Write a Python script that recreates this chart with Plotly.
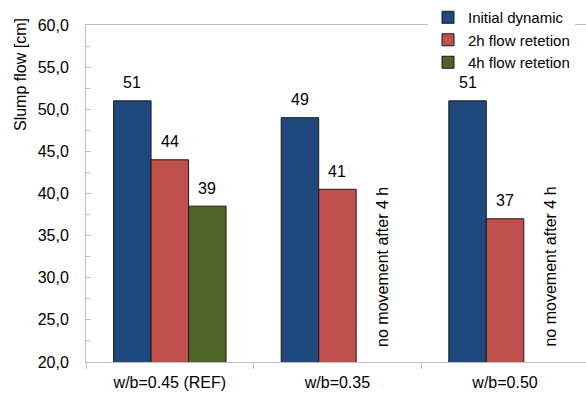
import plotly.graph_objects as go
from decimal import Decimal, ROUND_HALF_UP

# Slump flow measured for each mix, initially and after 2 h / 4 h
categories = ["w/b=0.45 (REF)", "w/b=0.35", "w/b=0.50"]
initial_dynamic = [51, 49, 51]
flow_2h = [44, 40.5, 37]
flow_4h = [38.5, None, None]
series_names = ["Initial dynamic", "2h flow retetion", "4h flow retetion"]
series_colors = ["#1F497D", "#C0504D", "#4F6228"]
no_movement_groups = ["w/b=0.35", "w/b=0.50"]
no_movement_text = "no movement after 4 h"
y_title = "Slump flow [cm]"

FONT = "Liberation Sans, Arial, sans-serif"
FS = 16
LEGEND_FS = 15
GRID_GREY = "#BFBFBF"
BARGAP = 0.329
W, H = 586, 394
ML, MR, MT, MB = 86, 0, 25, 32

series = [initial_dynamic, flow_2h, flow_4h]
n_series = len(series)
slot = (1 - BARGAP) / n_series  # width of one bar in category units

fig = go.Figure()
for name, vals, col in zip(series_names, series, series_colors):
    fig.add_trace(go.Bar(
        name=name, x=categories, y=vals,
        marker=dict(color=col, line=dict(color="#1A1A1A", width=1)),
        hoverinfo="skip",
    ))


def label_text(v):
    return str(Decimal(str(v)).quantize(Decimal("1"), rounding=ROUND_HALF_UP))


annotations = []
# value labels above each bar
for k, vals in enumerate(series):
    for i, v in enumerate(vals):
        if v is None:
            continue
        annotations.append(dict(
            x=i + (k - (n_series - 1) / 2) * slot, y=v, xref="x", yref="y",
            text=label_text(v), showarrow=False, yanchor="middle", yshift=18,
            font=dict(family=FONT, size=FS, color="#000000"),
        ))

# vertical notes where the 4 h bar is missing
for cat in no_movement_groups:
    i = categories.index(cat)
    annotations.append(dict(
        x=i + (n_series - 1) / 2 * slot, y=20, xref="x", yref="y",
        text=no_movement_text, textangle=-90, showarrow=False,
        xanchor="center", yanchor="bottom", xshift=7, yshift=13,
        font=dict(family=FONT, size=FS, color="#000000"),
    ))

plot_w = W - ML - MR
plot_h = H - MT - MB
annotations.append(dict(
    x=(20 - ML) / plot_w, y=(H - MB - 75) / plot_h, xref="paper", yref="paper",
    text=y_title, textangle=-90, showarrow=False,
    xanchor="center", yanchor="middle",
    font=dict(family=FONT, size=FS, color="#000000"),
))

fig.update_layout(
    width=W, height=H, autosize=False,
    margin=dict(l=ML, r=MR, t=MT, b=MB, pad=0),
    paper_bgcolor="white", plot_bgcolor="white",
    barmode="group", bargap=BARGAP, bargroupgap=0,
    separators=", ",
    font=dict(family=FONT, size=FS, color="#000000"),
    showlegend=True,
    legend=dict(
        x=(428 - ML) / plot_w, xanchor="left",
        y=1 + (MT - 1) / plot_h, yanchor="top",
        bgcolor="white", borderwidth=0, tracegroupgap=0,
        font=dict(family=FONT, size=LEGEND_FS, color="#000000"),
        traceorder="normal",
    ),
    annotations=annotations,
)

fig.update_xaxes(
    type="category", range=[-0.5, 2.483],
    showline=True, linecolor=GRID_GREY, linewidth=1, mirror=True,
    ticks="outside", tickson="boundaries", ticklen=6, tickcolor=GRID_GREY,
    ticklabelstandoff=6, showgrid=False, zeroline=False,
    tickfont=dict(family=FONT, size=FS, color="#000000"),
)
fig.update_yaxes(
    range=[20, 60], tick0=20, dtick=5, tickformat=".1f",
    showline=True, linecolor=GRID_GREY, linewidth=1,
    ticks="inside", ticklen=5, tickcolor=GRID_GREY,
    minor=dict(ticks="inside", ticklen=4, dtick=2.5, tickcolor=GRID_GREY),
    ticklabelstandoff=13, showgrid=False, zeroline=False,
    tickfont=dict(family=FONT, size=FS, color="#000000"),
)

fig.write_html("out.html")
